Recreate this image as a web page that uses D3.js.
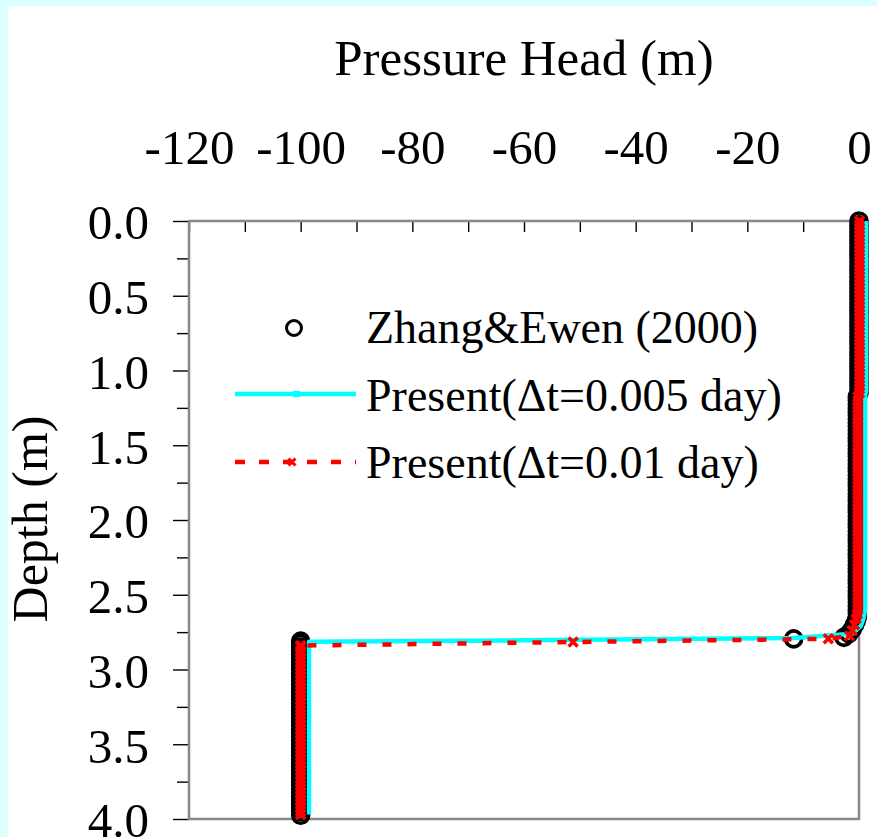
<!DOCTYPE html>
<html>
<head>
<meta charset="utf-8">
<script src="https://cdn.jsdelivr.net/npm/d3@7"></script>
<style>
  body { margin: 0; background: #dbffff; }
  svg { display: block; }
  text { font-family: "Liberation Serif", "Times New Roman", serif; fill: #000; }
</style>
</head>
<body>
<div id="root"></div>
<script>
// Zhang & Ewen (2000): [pressure head (m), depth (m)]
const zhangEwen = [
  [0, 0.000], [0, 0.025], [0, 0.050], [0, 0.075], [0, 0.100], [0, 0.125], [0, 0.150], [0, 0.175],
  [0, 0.200], [0, 0.225], [0, 0.250], [0, 0.275], [0, 0.300], [0, 0.325], [0, 0.350], [0, 0.375],
  [0, 0.400], [0, 0.425], [0, 0.450], [0, 0.475], [0, 0.500], [0, 0.525], [0, 0.550], [0, 0.575],
  [0, 0.600], [0, 0.625], [0, 0.650], [0, 0.675], [0, 0.700], [0, 0.725], [0, 0.750], [0, 0.775],
  [0, 0.800], [0, 0.825], [0, 0.850], [0, 0.875], [0, 0.900], [0, 0.925], [0, 0.950], [0, 0.975],
  [0, 1.000], [0, 1.025], [0, 1.050], [0, 1.075], [0, 1.100], [0, 1.125], [0, 1.150],
  [-0.3, 1.175], [-0.3, 1.200], [-0.3, 1.225], [-0.3, 1.250], [-0.3, 1.275], [-0.3, 1.300],
  [-0.3, 1.325], [-0.3, 1.350], [-0.3, 1.375], [-0.3, 1.400], [-0.3, 1.425], [-0.3, 1.450],
  [-0.3, 1.475], [-0.3, 1.500], [-0.3, 1.525], [-0.3, 1.550], [-0.3, 1.575], [-0.3, 1.600],
  [-0.3, 1.625], [-0.3, 1.650], [-0.3, 1.675], [-0.3, 1.700], [-0.3, 1.725], [-0.3, 1.750],
  [-0.3, 1.775], [-0.3, 1.800], [-0.3, 1.825], [-0.3, 1.850], [-0.3, 1.875], [-0.3, 1.900],
  [-0.3, 1.925], [-0.3, 1.950], [-0.3, 1.975], [-0.3, 2.000], [-0.3, 2.025], [-0.3, 2.050],
  [-0.3, 2.075], [-0.3, 2.100], [-0.3, 2.125], [-0.3, 2.150], [-0.3, 2.175], [-0.3, 2.200],
  [-0.3, 2.225], [-0.3, 2.250], [-0.3, 2.275], [-0.3, 2.300], [-0.3, 2.325], [-0.3, 2.350],
  [-0.3, 2.375], [-0.3, 2.400], [-0.3, 2.425], [-0.3, 2.450], [-0.3, 2.475], [-0.3, 2.500],
  [-0.3, 2.525], [-0.3, 2.550], [-0.3, 2.575], [-0.3, 2.600], [-0.3, 2.625], [-0.3, 2.650],
  [-0.5, 2.675], [-0.8, 2.700], [-1.2, 2.730], [-1.8, 2.760], [-2.7, 2.785], [-11.7, 2.795],
  [-100, 2.810], [-100, 2.825], [-100, 2.850], [-100, 2.875], [-100, 2.900], [-100, 2.925],
  [-100, 2.950], [-100, 2.975], [-100, 3.000], [-100, 3.025], [-100, 3.050], [-100, 3.075],
  [-100, 3.100], [-100, 3.125], [-100, 3.150], [-100, 3.175], [-100, 3.200], [-100, 3.225],
  [-100, 3.250], [-100, 3.275], [-100, 3.300], [-100, 3.325], [-100, 3.350], [-100, 3.375],
  [-100, 3.400], [-100, 3.425], [-100, 3.450], [-100, 3.475], [-100, 3.500], [-100, 3.525],
  [-100, 3.550], [-100, 3.575], [-100, 3.600], [-100, 3.625], [-100, 3.650], [-100, 3.675],
  [-100, 3.700], [-100, 3.725], [-100, 3.750], [-100, 3.775], [-100, 3.800], [-100, 3.825],
  [-100, 3.850], [-100, 3.875], [-100, 3.900], [-100, 3.925], [-100, 3.950], [-100, 3.975]
];

// Present model, dt = 0.005 day
const presentFine = [
  [1.25, 0.00], [1.25, 1.14], [1.1, 1.16], [1.1, 2.60], [0.8, 2.66], [0.3, 2.71],
  [-1.2, 2.76], [-7.8, 2.78], [-11.7, 2.79], [-60, 2.805], [-98.5, 2.815], [-98.5, 3.97]
];

// Present model, dt = 0.01 day
const presentCoarse = [
  [0.1, 0.000], [0.1, 0.025], [0.1, 0.050], [0.1, 0.075], [0.1, 0.100], [0.1, 0.125], [0.1, 0.150],
  [0.1, 0.175], [0.1, 0.200], [0.1, 0.225], [0.1, 0.250], [0.1, 0.275], [0.1, 0.300], [0.1, 0.325],
  [0.1, 0.350], [0.1, 0.375], [0.1, 0.400], [0.1, 0.425], [0.1, 0.450], [0.1, 0.475], [0.1, 0.500],
  [0.1, 0.525], [0.1, 0.550], [0.1, 0.575], [0.1, 0.600], [0.1, 0.625], [0.1, 0.650], [0.1, 0.675],
  [0.1, 0.700], [0.1, 0.725], [0.1, 0.750], [0.1, 0.775], [0.1, 0.800], [0.1, 0.825], [0.1, 0.850],
  [0.1, 0.875], [0.1, 0.900], [0.1, 0.925], [0.1, 0.950], [0.1, 0.975], [0.1, 1.000], [0.1, 1.025],
  [0.1, 1.050], [0.1, 1.075], [0.1, 1.100], [0.1, 1.125], [0.1, 1.150],
  [-0.2, 1.175], [-0.2, 1.200], [-0.2, 1.225], [-0.2, 1.250], [-0.2, 1.275], [-0.2, 1.300],
  [-0.2, 1.325], [-0.2, 1.350], [-0.2, 1.375], [-0.2, 1.400], [-0.2, 1.425], [-0.2, 1.450],
  [-0.2, 1.475], [-0.2, 1.500], [-0.2, 1.525], [-0.2, 1.550], [-0.2, 1.575], [-0.2, 1.600],
  [-0.2, 1.625], [-0.2, 1.650], [-0.2, 1.675], [-0.2, 1.700], [-0.2, 1.725], [-0.2, 1.750],
  [-0.2, 1.775], [-0.2, 1.800], [-0.2, 1.825], [-0.2, 1.850], [-0.2, 1.875], [-0.2, 1.900],
  [-0.2, 1.925], [-0.2, 1.950], [-0.2, 1.975], [-0.2, 2.000], [-0.2, 2.025], [-0.2, 2.050],
  [-0.2, 2.075], [-0.2, 2.100], [-0.2, 2.125], [-0.2, 2.150], [-0.2, 2.175], [-0.2, 2.200],
  [-0.2, 2.225], [-0.2, 2.250], [-0.2, 2.275], [-0.2, 2.300], [-0.2, 2.325], [-0.2, 2.350],
  [-0.2, 2.375], [-0.2, 2.400], [-0.2, 2.425], [-0.2, 2.450], [-0.2, 2.475], [-0.2, 2.500],
  [-0.2, 2.525], [-0.2, 2.550], [-0.2, 2.575], [-0.2, 2.600],
  [-0.3, 2.630], [-0.5, 2.660], [-0.8, 2.700], [-1.2, 2.740], [-1.7, 2.775], [-5.5, 2.795],
  [-51.2, 2.816], [-100, 2.840],
  [-100, 2.850], [-100, 2.875], [-100, 2.900], [-100, 2.925], [-100, 2.950], [-100, 2.975],
  [-100, 3.000], [-100, 3.025], [-100, 3.050], [-100, 3.075], [-100, 3.100], [-100, 3.125],
  [-100, 3.150], [-100, 3.175], [-100, 3.200], [-100, 3.225], [-100, 3.250], [-100, 3.275],
  [-100, 3.300], [-100, 3.325], [-100, 3.350], [-100, 3.375], [-100, 3.400], [-100, 3.425],
  [-100, 3.450], [-100, 3.475], [-100, 3.500], [-100, 3.525], [-100, 3.550], [-100, 3.575],
  [-100, 3.600], [-100, 3.625], [-100, 3.650], [-100, 3.675], [-100, 3.700], [-100, 3.725],
  [-100, 3.750], [-100, 3.775], [-100, 3.800], [-100, 3.825], [-100, 3.850], [-100, 3.875],
  [-100, 3.900], [-100, 3.925], [-100, 3.950], [-100, 3.970]
];

const xTicks = [-120, -110, -100, -90, -80, -70, -60, -50, -40, -30, -20, -10, 0];
const yMajorTicks = [0, 0.5, 1.0, 1.5, 2.0, 2.5, 3.0, 3.5, 4.0];
const yMinorTicks = [0.25, 0.75, 1.25, 1.75, 2.25, 2.75, 3.25, 3.75];
const legendLabels = ["Zhang&Ewen (2000)", "Present(\u0394t=0.005 day)", "Present(\u0394t=0.01 day)"];

const fullWidth = 877;
const fullHeight = 837;
const plot = { left: 189, top: 221, right: 859, bottom: 819 };

const svg = d3.select("#root").append("svg")
  .attr("width", fullWidth)
  .attr("height", fullHeight);

// white panel inside the cyan border
svg.append("rect")
  .attr("x", 8).attr("y", 6)
  .attr("width", fullWidth).attr("height", fullHeight)
  .attr("fill", "#fff");

const x = d3.scaleLinear().domain([-120, 0]).range([plot.left, plot.right]);
const y = d3.scaleLinear().domain([0, 4]).range([plot.top, plot.bottom]);

// Top axis: inward ticks every 10, labels every 20
const xAxis = svg.append("g")
  .attr("transform", `translate(0,${plot.top})`)
  .call(d3.axisTop(x)
    .tickValues(xTicks)
    .tickSizeInner(-11)
    .tickSizeOuter(0)
    .tickPadding(57.5)
    .tickFormat(d => (d % 20 === 0 ? String(d) : "")));
xAxis.select(".domain").remove();
xAxis.selectAll(".tick line").attr("stroke", "#000").attr("stroke-width", 1.4);
xAxis.selectAll(".tick text").style("font-size", "49px");

// Left axis: major + minor ticks
const yAxis = svg.append("g")
  .attr("transform", `translate(${plot.left},0)`)
  .call(d3.axisLeft(y)
    .tickValues(yMajorTicks)
    .tickSizeInner(16)
    .tickSizeOuter(0)
    .tickPadding(24)
    .tickFormat(d3.format(".1f")));
yAxis.select(".domain").remove();
yAxis.selectAll(".tick line").attr("stroke", "#000").attr("stroke-width", 1.4);
yAxis.selectAll(".tick text").style("font-size", "49px").attr("dy", "0.367em");

const yMinor = svg.append("g")
  .attr("transform", `translate(${plot.left},0)`)
  .call(d3.axisLeft(y).tickValues(yMinorTicks).tickSizeInner(12).tickSizeOuter(0).tickFormat(""));
yMinor.select(".domain").remove();
yMinor.selectAll(".tick line").attr("stroke", "#000").attr("stroke-width", 1.4);

// Plot frame
svg.append("rect")
  .attr("x", plot.left).attr("y", plot.top)
  .attr("width", plot.right - plot.left)
  .attr("height", plot.bottom - plot.top)
  .attr("fill", "none")
  .attr("stroke", "#888")
  .attr("stroke-width", 2.5);

// Titles
svg.append("text")
  .attr("x", (plot.left + plot.right) / 2)
  .attr("y", 75)
  .attr("text-anchor", "middle")
  .style("font-size", "51px")
  .text("Pressure Head (m)");

svg.append("text")
  .attr("transform", "translate(47,519) rotate(-90)")
  .attr("text-anchor", "middle")
  .style("font-size", "50px")
  .text("Depth (m)");

// Series
const line = d3.line().x(d => x(d[0])).y(d => y(d[1]));

svg.append("g")
  .selectAll("circle")
  .data(zhangEwen)
  .join("circle")
  .attr("cx", d => x(d[0]))
  .attr("cy", d => y(d[1]))
  .attr("r", 8)
  .attr("fill", "none")
  .attr("stroke", "#000")
  .attr("stroke-width", 3.6);

svg.append("path")
  .datum(presentFine)
  .attr("d", line)
  .attr("fill", "none")
  .attr("stroke", "#00ffff")
  .attr("stroke-width", 4.5)
  .attr("stroke-linejoin", "round");

svg.append("path")
  .datum(presentCoarse)
  .attr("d", line)
  .attr("fill", "none")
  .attr("stroke", "#ff0000")
  .attr("stroke-width", 4.5)
  .attr("stroke-dasharray", "9,16");

function crossPath(cx, cy, s) {
  return `M${cx - s},${cy - s}L${cx + s},${cy + s}M${cx - s},${cy + s}L${cx + s},${cy - s}`;
}

svg.append("g")
  .selectAll("path")
  .data(presentCoarse)
  .join("path")
  .attr("d", d => crossPath(x(d[0]), y(d[1]), 4.5))
  .attr("stroke", "#ff0000")
  .attr("stroke-width", 3.5)
  .attr("fill", "none");

// Legend
const legend = svg.append("g");
const rowY = [328, 394, 462];
const textY = [343, 411, 478];

legend.append("circle")
  .attr("cx", 294).attr("cy", rowY[0]).attr("r", 7.5)
  .attr("fill", "none").attr("stroke", "#000").attr("stroke-width", 3);

legend.append("line")
  .attr("x1", 235).attr("x2", 356).attr("y1", rowY[1]).attr("y2", rowY[1])
  .attr("stroke", "#00ffff").attr("stroke-width", 4.3);
legend.append("rect")
  .attr("x", 293).attr("y", rowY[1] - 3).attr("width", 7).attr("height", 6)
  .attr("fill", "#00ffff");

legend.append("line")
  .attr("x1", 235).attr("x2", 356).attr("y1", rowY[2]).attr("y2", rowY[2])
  .attr("stroke", "#ff0000").attr("stroke-width", 4.5)
  .attr("stroke-dasharray", "10,14");
legend.append("path")
  .attr("d", crossPath(292, rowY[2], 3.5))
  .attr("stroke", "#ff0000").attr("stroke-width", 3).attr("fill", "none");

legend.selectAll("text")
  .data(legendLabels)
  .join("text")
  .attr("x", 366)
  .attr("y", (d, i) => textY[i])
  .style("font-size", "46px")
  .text(d => d);
</script>
</body>
</html>
